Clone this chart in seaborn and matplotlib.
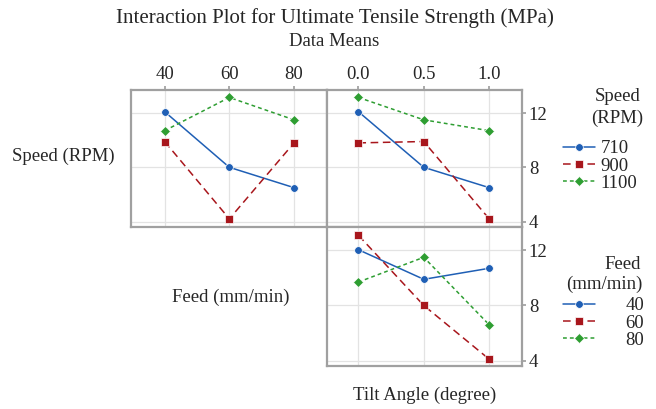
import numpy as np
import pandas as pd
import matplotlib
matplotlib.use("Agg")
import matplotlib.pyplot as plt
import seaborn as sns

# ---- data (cell means) ----
feed_levels = [40, 60, 80]
tilt_levels = [0.0, 0.5, 1.0]
speed_names = ["710", "900", "1100"]
feed_names = ["40", "60", "80"]

speed_by_feed = {"710": [12.1, 8.0, 6.5],
                 "900": [9.9, 4.2, 9.8],
                 "1100": [10.7, 13.15, 11.5]}
speed_by_tilt = {"710": [12.1, 8.0, 6.5],
                 "900": [9.8, 9.9, 4.2],
                 "1100": [13.15, 11.5, 10.7]}
feed_by_tilt = {"40": [12.05, 9.9, 10.7],
                "60": [13.1, 8.0, 4.1],
                "80": [9.7, 11.5, 6.6]}

y_ticks = [4, 8, 12]
feed_ticks = [40, 60, 80]
tilt_ticks = [0.0, 0.5, 1.0]
tilt_ticklabels = ["0.0", "0.5", "1.0"]


def to_long(table, xs, group):
    rows = []
    for lvl, vals in table.items():
        for x, v in zip(xs, vals):
            rows.append({"x": x, group: lvl, "UTS": v})
    return pd.DataFrame(rows)


df_sf = to_long(speed_by_feed, feed_levels, "Speed")
df_st = to_long(speed_by_tilt, tilt_levels, "Speed")
df_ft = to_long(feed_by_tilt, tilt_levels, "Feed")

# ---- style ----
sns.set_theme(style="white")
plt.rcParams["font.family"] = ["Liberation Serif", "DejaVu Serif"]

colors = ["#1f5fb5", "#a8161c", "#2e9e32"]
markers = ["o", "s", "D"]
dashes = ["", (5, 3), (2.5, 2)]

fig = plt.figure(figsize=(6.56, 4.09), dpi=100)
ax_sf = fig.add_axes([0.1997, 0.445, 0.2988, 0.335])
ax_st = fig.add_axes([0.4985, 0.445, 0.297, 0.335])
ax_ft = fig.add_axes([0.4985, 0.105, 0.297, 0.340])


def draw(ax, data, group, order):
    sns.lineplot(data=data, x="x", y="UTS", hue=group, style=group,
                 hue_order=order, style_order=order,
                 palette=dict(zip(order, colors)),
                 markers=dict(zip(order, markers)),
                 dashes=dict(zip(order, dashes)),
                 markersize=5.5, markeredgewidth=0.5, linewidth=1.1, ax=ax)
    leg = ax.get_legend()
    handles = leg.legend_handles
    labels = [t.get_text() for t in leg.get_texts()]
    leg.remove()
    ax.set_ylim(3.6, 13.7)
    ax.set_yticks(y_ticks)
    ax.set_xlabel("")
    ax.set_ylabel("")
    ax.grid(True, color="#e3e3e3", linewidth=0.9)
    ax.set_axisbelow(True)
    for s in ax.spines.values():
        s.set_color("#a0a0a0")
        s.set_linewidth(1.6)
    ax.tick_params(length=3, color="#a0a0a0", labelsize=13.5, pad=2)
    return handles, labels


h_speed, l_speed = draw(ax_sf, df_sf, "Speed", speed_names)
draw(ax_st, df_st, "Speed", speed_names)
h_feed, l_feed = draw(ax_ft, df_ft, "Feed", feed_names)

ax_sf.set_xlim(29.6, 90.2)
ax_sf.set_xticks(feed_ticks)
ax_sf.tick_params(axis="x", top=True, bottom=False, labeltop=True, labelbottom=False)
ax_sf.tick_params(axis="y", left=False, labelleft=False)

for ax in (ax_st, ax_ft):
    ax.set_xlim(-0.24, 1.25)
    ax.set_xticks(tilt_ticks)
    ax.tick_params(axis="y", left=False, labelleft=False, right=True, labelright=True)

ax_st.set_xticklabels(tilt_ticklabels)
ax_st.tick_params(axis="x", top=True, bottom=False, labeltop=True, labelbottom=False)
ax_ft.tick_params(axis="x", top=False, bottom=False, labeltop=False, labelbottom=False)

# ---- titles and labels ----
fig.text(0.51, 0.955, "Interaction Plot for Ultimate Tensile Strength (MPa)",
         ha="center", va="center", fontsize=15)
fig.text(0.51, 0.898, "Data Means", ha="center", va="center", fontsize=13.5)
fig.text(0.097, 0.617, "Speed (RPM)", ha="center", va="center", fontsize=13.5)
fig.text(0.352, 0.273, "Feed (mm/min)", ha="center", va="center", fontsize=13.5)
fig.text(0.648, 0.034, "Tilt Angle (degree)", ha="center", va="center", fontsize=13.5)

# legend titles
fig.text(0.941, 0.764, "Speed", ha="center", va="center", fontsize=13.5)
fig.text(0.941, 0.711, "(RPM)", ha="center", va="center", fontsize=13.5)
fig.text(0.977, 0.354, "Feed", ha="right", va="center", fontsize=13.5)
fig.text(0.979, 0.306, "(mm/min)", ha="right", va="center", fontsize=13.5)

# ---- legends ----
fig.legend(h_speed, l_speed, loc="upper left",
           bbox_to_anchor=(0.858, 0.657), frameon=False, fontsize=13.5,
           handlelength=1.7, handletextpad=0.3, labelspacing=0.0,
           borderpad=0.0, borderaxespad=0.0)
fig.legend(h_feed, l_feed, loc="upper left",
           bbox_to_anchor=(0.858, 0.273), frameon=False, fontsize=13.5,
           handlelength=1.7, handletextpad=1.65, labelspacing=0.0,
           borderpad=0.0, borderaxespad=0.0)

fig.savefig("out.png", dpi=100)
